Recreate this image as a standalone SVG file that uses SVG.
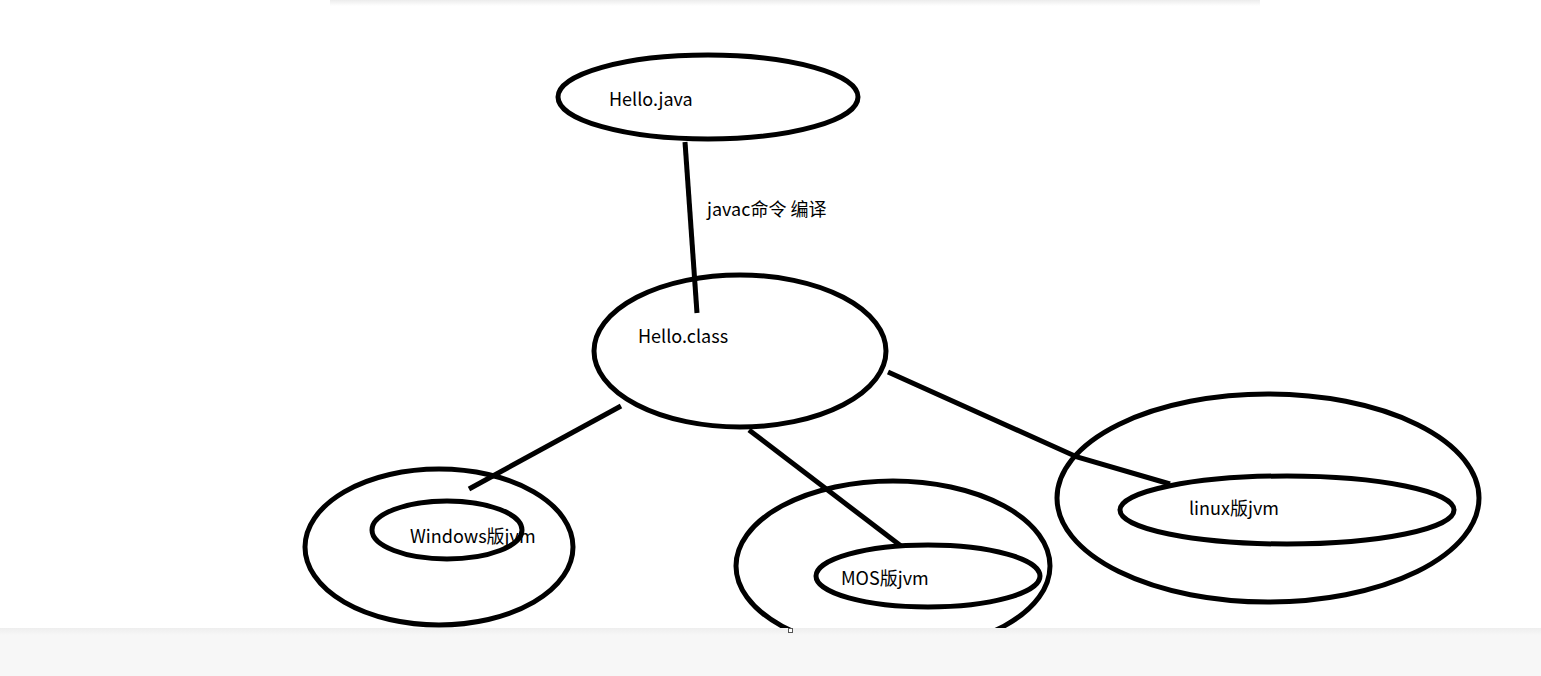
<svg xmlns="http://www.w3.org/2000/svg" width="1541" height="676" viewBox="0 0 1541 676">
  <style>
    .s { fill: none; stroke: #000; stroke-width: 5; }
    .t { font-family: "Noto Sans CJK SC", "Noto Sans", sans-serif; font-size: 18px; fill: #000; }
  </style>
  <defs>
    <linearGradient id="topShade" x1="0" y1="0" x2="0" y2="1">
      <stop offset="0" stop-color="#ececec"/>
      <stop offset="1" stop-color="#ffffff"/>
    </linearGradient>
    <linearGradient id="barShade" x1="0" y1="0" x2="0" y2="1">
      <stop offset="0" stop-color="#eeeeee"/>
      <stop offset="0.15" stop-color="#f7f7f7"/>
      <stop offset="1" stop-color="#f7f7f7"/>
    </linearGradient>
  </defs>
  <rect width="1541" height="676" fill="#fff"/>
  <rect x="330" y="0" width="930" height="6" fill="url(#topShade)"/>

  <g id="connectors">
    <polyline class="s" points="685,142 697,313"/>
    <polyline class="s" points="621,406 469,489"/>
    <polyline class="s" points="749,430 901,546"/>
    <polyline class="s" points="888,372 1077,457 1170,484"/>
  </g>

  <g id="hello-java">
    <ellipse class="s" cx="708" cy="97" rx="150" ry="42"/>
    <text class="t" x="609" y="106">Hello.java</text>
  </g>
  <g id="compile-label">
    <text class="t" x="707" y="216">javac命令 编译</text>
  </g>
  <g id="hello-class">
    <ellipse class="s" cx="740" cy="351" rx="146" ry="76"/>
    <text class="t" x="638" y="343">Hello.class</text>
  </g>
  <g id="windows-jvm">
    <ellipse class="s" cx="439" cy="547" rx="134" ry="78"/>
    <ellipse class="s" cx="447" cy="530" rx="75" ry="29"/>
    <text class="t" x="410" y="543">Windows版jvm</text>
  </g>
  <g id="mos-jvm">
    <ellipse class="s" cx="893" cy="566" rx="157" ry="85"/>
    <ellipse class="s" cx="928" cy="576" rx="112" ry="31"/>
    <text class="t" x="841" y="585">MOS版jvm</text>
  </g>
  <g id="linux-jvm">
    <ellipse class="s" cx="1268" cy="498" rx="211" ry="104"/>
    <ellipse class="s" cx="1287" cy="510" rx="167" ry="34"/>
    <text class="t" x="1189" y="515">linux版jvm</text>
  </g>

  <rect x="0" y="628" width="1541" height="48" fill="url(#barShade)"/>
  <rect x="788.5" y="628.5" width="4" height="4" fill="#fff" stroke="#555" stroke-width="1"/>
</svg>
